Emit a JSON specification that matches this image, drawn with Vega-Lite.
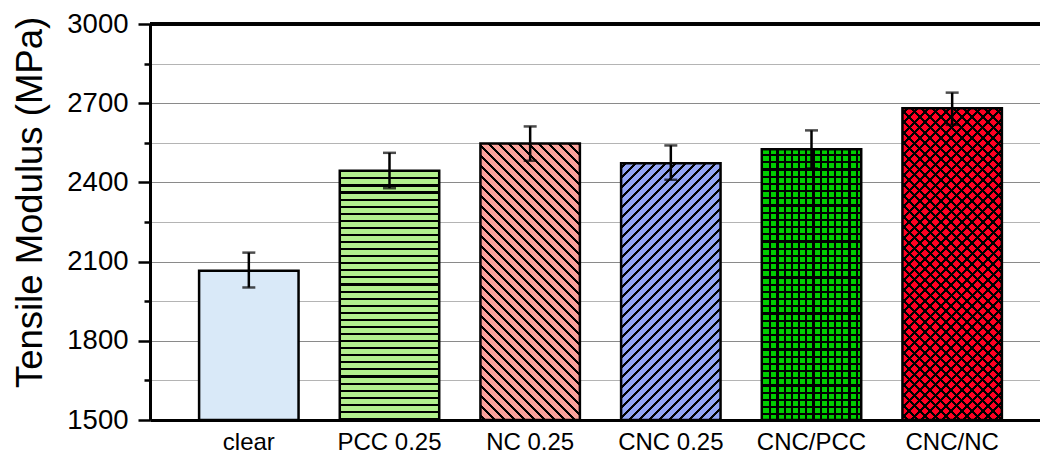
{
  "$schema": "https://vega.github.io/schema/vega-lite/v6.json",
  "width": 890,
  "height": 396,
  "autosize": {"type": "none"},
  "padding": {"left": 150, "top": 24, "right": 0, "bottom": 34},
  "config": {"view": {"stroke": null}, "font": "Liberation Sans"},
  "params": [{"name": "hatch", "value": [
    {"offset": 0.00875, "color": "transparent"}, {"offset": 0.00875, "color": "#000"}, {"offset": 0.01625, "color": "#000"}, {"offset": 0.01625, "color": "transparent"},
    {"offset": 0.03375, "color": "transparent"}, {"offset": 0.03375, "color": "#000"}, {"offset": 0.04125, "color": "#000"}, {"offset": 0.04125, "color": "transparent"},
    {"offset": 0.05875, "color": "transparent"}, {"offset": 0.05875, "color": "#000"}, {"offset": 0.06625, "color": "#000"}, {"offset": 0.06625, "color": "transparent"},
    {"offset": 0.08375, "color": "transparent"}, {"offset": 0.08375, "color": "#000"}, {"offset": 0.09125, "color": "#000"}, {"offset": 0.09125, "color": "transparent"},
    {"offset": 0.10875, "color": "transparent"}, {"offset": 0.10875, "color": "#000"}, {"offset": 0.11625, "color": "#000"}, {"offset": 0.11625, "color": "transparent"},
    {"offset": 0.13375, "color": "transparent"}, {"offset": 0.13375, "color": "#000"}, {"offset": 0.14125, "color": "#000"}, {"offset": 0.14125, "color": "transparent"},
    {"offset": 0.15875, "color": "transparent"}, {"offset": 0.15875, "color": "#000"}, {"offset": 0.16625, "color": "#000"}, {"offset": 0.16625, "color": "transparent"},
    {"offset": 0.18375, "color": "transparent"}, {"offset": 0.18375, "color": "#000"}, {"offset": 0.19125, "color": "#000"}, {"offset": 0.19125, "color": "transparent"},
    {"offset": 0.20875, "color": "transparent"}, {"offset": 0.20875, "color": "#000"}, {"offset": 0.21625, "color": "#000"}, {"offset": 0.21625, "color": "transparent"},
    {"offset": 0.23375, "color": "transparent"}, {"offset": 0.23375, "color": "#000"}, {"offset": 0.24125, "color": "#000"}, {"offset": 0.24125, "color": "transparent"},
    {"offset": 0.25875, "color": "transparent"}, {"offset": 0.25875, "color": "#000"}, {"offset": 0.26625, "color": "#000"}, {"offset": 0.26625, "color": "transparent"},
    {"offset": 0.28375, "color": "transparent"}, {"offset": 0.28375, "color": "#000"}, {"offset": 0.29125, "color": "#000"}, {"offset": 0.29125, "color": "transparent"},
    {"offset": 0.30875, "color": "transparent"}, {"offset": 0.30875, "color": "#000"}, {"offset": 0.31625, "color": "#000"}, {"offset": 0.31625, "color": "transparent"},
    {"offset": 0.33375, "color": "transparent"}, {"offset": 0.33375, "color": "#000"}, {"offset": 0.34125, "color": "#000"}, {"offset": 0.34125, "color": "transparent"},
    {"offset": 0.35875, "color": "transparent"}, {"offset": 0.35875, "color": "#000"}, {"offset": 0.36625, "color": "#000"}, {"offset": 0.36625, "color": "transparent"},
    {"offset": 0.38375, "color": "transparent"}, {"offset": 0.38375, "color": "#000"}, {"offset": 0.39125, "color": "#000"}, {"offset": 0.39125, "color": "transparent"},
    {"offset": 0.40875, "color": "transparent"}, {"offset": 0.40875, "color": "#000"}, {"offset": 0.41625, "color": "#000"}, {"offset": 0.41625, "color": "transparent"},
    {"offset": 0.43375, "color": "transparent"}, {"offset": 0.43375, "color": "#000"}, {"offset": 0.44125, "color": "#000"}, {"offset": 0.44125, "color": "transparent"},
    {"offset": 0.45875, "color": "transparent"}, {"offset": 0.45875, "color": "#000"}, {"offset": 0.46625, "color": "#000"}, {"offset": 0.46625, "color": "transparent"},
    {"offset": 0.48375, "color": "transparent"}, {"offset": 0.48375, "color": "#000"}, {"offset": 0.49125, "color": "#000"}, {"offset": 0.49125, "color": "transparent"},
    {"offset": 0.50875, "color": "transparent"}, {"offset": 0.50875, "color": "#000"}, {"offset": 0.51625, "color": "#000"}, {"offset": 0.51625, "color": "transparent"},
    {"offset": 0.53375, "color": "transparent"}, {"offset": 0.53375, "color": "#000"}, {"offset": 0.54125, "color": "#000"}, {"offset": 0.54125, "color": "transparent"},
    {"offset": 0.55875, "color": "transparent"}, {"offset": 0.55875, "color": "#000"}, {"offset": 0.56625, "color": "#000"}, {"offset": 0.56625, "color": "transparent"},
    {"offset": 0.58375, "color": "transparent"}, {"offset": 0.58375, "color": "#000"}, {"offset": 0.59125, "color": "#000"}, {"offset": 0.59125, "color": "transparent"},
    {"offset": 0.60875, "color": "transparent"}, {"offset": 0.60875, "color": "#000"}, {"offset": 0.61625, "color": "#000"}, {"offset": 0.61625, "color": "transparent"},
    {"offset": 0.63375, "color": "transparent"}, {"offset": 0.63375, "color": "#000"}, {"offset": 0.64125, "color": "#000"}, {"offset": 0.64125, "color": "transparent"},
    {"offset": 0.65875, "color": "transparent"}, {"offset": 0.65875, "color": "#000"}, {"offset": 0.66625, "color": "#000"}, {"offset": 0.66625, "color": "transparent"},
    {"offset": 0.68375, "color": "transparent"}, {"offset": 0.68375, "color": "#000"}, {"offset": 0.69125, "color": "#000"}, {"offset": 0.69125, "color": "transparent"},
    {"offset": 0.70875, "color": "transparent"}, {"offset": 0.70875, "color": "#000"}, {"offset": 0.71625, "color": "#000"}, {"offset": 0.71625, "color": "transparent"},
    {"offset": 0.73375, "color": "transparent"}, {"offset": 0.73375, "color": "#000"}, {"offset": 0.74125, "color": "#000"}, {"offset": 0.74125, "color": "transparent"},
    {"offset": 0.75875, "color": "transparent"}, {"offset": 0.75875, "color": "#000"}, {"offset": 0.76625, "color": "#000"}, {"offset": 0.76625, "color": "transparent"},
    {"offset": 0.78375, "color": "transparent"}, {"offset": 0.78375, "color": "#000"}, {"offset": 0.79125, "color": "#000"}, {"offset": 0.79125, "color": "transparent"},
    {"offset": 0.80875, "color": "transparent"}, {"offset": 0.80875, "color": "#000"}, {"offset": 0.81625, "color": "#000"}, {"offset": 0.81625, "color": "transparent"},
    {"offset": 0.83375, "color": "transparent"}, {"offset": 0.83375, "color": "#000"}, {"offset": 0.84125, "color": "#000"}, {"offset": 0.84125, "color": "transparent"},
    {"offset": 0.85875, "color": "transparent"}, {"offset": 0.85875, "color": "#000"}, {"offset": 0.86625, "color": "#000"}, {"offset": 0.86625, "color": "transparent"},
    {"offset": 0.88375, "color": "transparent"}, {"offset": 0.88375, "color": "#000"}, {"offset": 0.89125, "color": "#000"}, {"offset": 0.89125, "color": "transparent"},
    {"offset": 0.90875, "color": "transparent"}, {"offset": 0.90875, "color": "#000"}, {"offset": 0.91625, "color": "#000"}, {"offset": 0.91625, "color": "transparent"},
    {"offset": 0.93375, "color": "transparent"}, {"offset": 0.93375, "color": "#000"}, {"offset": 0.94125, "color": "#000"}, {"offset": 0.94125, "color": "transparent"},
    {"offset": 0.95875, "color": "transparent"}, {"offset": 0.95875, "color": "#000"}, {"offset": 0.96625, "color": "#000"}, {"offset": 0.96625, "color": "transparent"},
    {"offset": 0.98375, "color": "transparent"}, {"offset": 0.98375, "color": "#000"}, {"offset": 0.99125, "color": "#000"}, {"offset": 0.99125, "color": "transparent"}
  ]}],
  "data": {"values": [
    {"sample": "clear", "mean": 2065, "lo": 2002, "hi": 2134},
    {"sample": "PCC 0.25", "mean": 2444, "lo": 2378, "hi": 2512},
    {"sample": "NC 0.25", "mean": 2547, "lo": 2482, "hi": 2612},
    {"sample": "CNC 0.25", "mean": 2473, "lo": 2410, "hi": 2540},
    {"sample": "CNC/PCC", "mean": 2526, "lo": 2453, "hi": 2597},
    {"sample": "CNC/NC", "mean": 2681, "lo": 2618, "hi": 2740}
  ]},
  "resolve": {"axis": {"y": "independent"}},
  "layer": [
    {
      "mark": {"type": "bar", "stroke": "black", "strokeWidth": 2.5, "opacity": 1},
      "encoding": {
        "x": {"field": "sample", "type": "nominal", "title": null,
              "sort": ["clear", "PCC 0.25", "NC 0.25", "CNC 0.25", "CNC/PCC", "CNC/NC"],
              "scale": {"paddingInner": 0.293, "paddingOuter": 0.31, "align": 0.563},
              "axis": {"orient": "bottom", "ticks": false, "tickSize": 0, "labelAngle": 0, "labelFontSize": 24, "labelColor": "black", "labelPadding": 10, "domainColor": "black", "domainWidth": 3, "grid": false}},
        "y": {"field": "mean", "type": "quantitative", "title": "Tensile Modulus (MPa)",
              "scale": {"domain": [1500, 3000], "nice": false, "zero": false},
              "axis": {"orient": "left", "values": [1500, 1800, 2100, 2400, 2700, 3000],
                       "format": "d",
                       "grid": true, "gridColor": "#8a8a8a", "gridWidth": 1.2,
                       "tickSize": 12, "tickWidth": 2.5, "tickColor": "black",
                       "domainColor": "black", "domainWidth": 3,
                       "labelFontSize": 27.5, "labelColor": "black", "labelPadding": 10,
                       "titleFontSize": 36.5, "titleFontWeight": "normal", "titleColor": "black",
                       "titleX": -109, "titleY": 178, "titleAlign": "center", "titleBaseline": "alphabetic", "titleAngle": -90}},
        "y2": {"datum": 1500},
        "color": {"field": "sample", "type": "nominal", "legend": null,
                  "scale": {"domain": ["clear", "PCC 0.25", "NC 0.25", "CNC 0.25", "CNC/PCC", "CNC/NC"],
                            "range": ["#d9e9f8", "#b3ef8e", "#f9a19a", "#93a5f5", "#00cd00", "#ff0022"]}}
      }
    },
    {
      "transform": [{"filter": "datum.sample === 'PCC 0.25'"}],
      "mark": {"type": "bar", "strokeWidth": 0, "fill": {"expr": "{gradient: 'linear', x1: 0, y1: 0.0163, x2: 0, y2: 1.1519, stops: hatch}"}},
      "encoding": {
        "x": {"field": "sample", "type": "nominal", "title": null, "sort": ["clear", "PCC 0.25", "NC 0.25", "CNC 0.25", "CNC/PCC", "CNC/NC"]},
        "y": {"field": "mean", "type": "quantitative", "axis": null},
        "y2": {"datum": 1500}
      }
    },
    {
      "transform": [{"filter": "datum.sample === 'NC 0.25'"}],
      "mark": {"type": "bar", "strokeWidth": 0, "fill": {"expr": "{gradient: 'linear', x1: 0, y1: 1, x2: 0.461, y2: -0.2813, stops: hatch}"}},
      "encoding": {
        "x": {"field": "sample", "type": "nominal", "title": null, "sort": ["clear", "PCC 0.25", "NC 0.25", "CNC 0.25", "CNC/PCC", "CNC/NC"]},
        "y": {"field": "mean", "type": "quantitative", "axis": null},
        "y2": {"datum": 1500}
      }
    },
    {
      "transform": [{"filter": "datum.sample === 'CNC 0.25'"}],
      "mark": {"type": "bar", "strokeWidth": 0, "fill": {"expr": "{gradient: 'linear', x1: 0, y1: 0, x2: 0.5243, y2: 1.3542, stops: hatch}"}},
      "encoding": {
        "x": {"field": "sample", "type": "nominal", "title": null, "sort": ["clear", "PCC 0.25", "NC 0.25", "CNC 0.25", "CNC/PCC", "CNC/NC"]},
        "y": {"field": "mean", "type": "quantitative", "axis": null},
        "y2": {"datum": 1500}
      }
    },
    {
      "transform": [{"filter": "datum.sample === 'CNC/PCC'"}],
      "mark": {"type": "bar", "strokeWidth": 0, "fill": {"expr": "{gradient: 'linear', x1: 0, y1: 0.00886, x2: 0, y2: 1.0722, stops: hatch}"}},
      "encoding": {
        "x": {"field": "sample", "type": "nominal", "title": null, "sort": ["clear", "PCC 0.25", "NC 0.25", "CNC 0.25", "CNC/PCC", "CNC/NC"]},
        "y": {"field": "mean", "type": "quantitative", "axis": null},
        "y2": {"datum": 1500}
      }
    },
    {
      "transform": [{"filter": "datum.sample === 'CNC/PCC'"}],
      "mark": {"type": "bar", "strokeWidth": 0, "fill": {"expr": "{gradient: 'linear', x1: 0.0493, y1: 0, x2: 2.945, y2: 0, stops: hatch}"}},
      "encoding": {
        "x": {"field": "sample", "type": "nominal", "title": null, "sort": ["clear", "PCC 0.25", "NC 0.25", "CNC 0.25", "CNC/PCC", "CNC/NC"]},
        "y": {"field": "mean", "type": "quantitative", "axis": null},
        "y2": {"datum": 1500}
      }
    },
    {
      "transform": [{"filter": "datum.sample === 'CNC/NC'"}],
      "mark": {"type": "bar", "strokeWidth": 0, "fill": {"expr": "{gradient: 'linear', x1: 0, y1: 0, x2: 0.39, y2: 1.2227, stops: hatch}"}},
      "encoding": {
        "x": {"field": "sample", "type": "nominal", "title": null, "sort": ["clear", "PCC 0.25", "NC 0.25", "CNC 0.25", "CNC/PCC", "CNC/NC"]},
        "y": {"field": "mean", "type": "quantitative", "axis": null},
        "y2": {"datum": 1500}
      }
    },
    {
      "transform": [{"filter": "datum.sample === 'CNC/NC'"}],
      "mark": {"type": "bar", "strokeWidth": 0, "fill": {"expr": "{gradient: 'linear', x1: 0, y1: 1, x2: 0.39, y2: -0.2227, stops: hatch}"}},
      "encoding": {
        "x": {"field": "sample", "type": "nominal", "title": null, "sort": ["clear", "PCC 0.25", "NC 0.25", "CNC 0.25", "CNC/PCC", "CNC/NC"]},
        "y": {"field": "mean", "type": "quantitative", "axis": null},
        "y2": {"datum": 1500}
      }
    },
    {
      "mark": {"type": "rule", "color": "black", "strokeWidth": 2.5},
      "encoding": {
        "x": {"field": "sample", "type": "nominal", "title": null, "sort": ["clear", "PCC 0.25", "NC 0.25", "CNC 0.25", "CNC/PCC", "CNC/NC"]},
        "y": {"field": "lo", "type": "quantitative", "title": null,
              "axis": {"orient": "left", "values": [1650, 1950, 2250, 2550, 2850], "labels": false, "domain": false,
                       "grid": true, "gridColor": "#b4b4b4", "gridWidth": 1.2,
                       "tickSize": 6, "tickWidth": 2.5, "tickColor": "black", "title": null}},
        "y2": {"field": "hi"}
      }
    },
    {
      "mark": {"type": "tick", "color": "black", "thickness": 2.5, "size": 13},
      "encoding": {
        "x": {"field": "sample", "type": "nominal", "title": null, "sort": ["clear", "PCC 0.25", "NC 0.25", "CNC 0.25", "CNC/PCC", "CNC/NC"]},
        "y": {"field": "hi", "type": "quantitative", "axis": null}
      }
    },
    {
      "mark": {"type": "tick", "color": "black", "thickness": 2.5, "size": 13},
      "encoding": {
        "x": {"field": "sample", "type": "nominal", "title": null, "sort": ["clear", "PCC 0.25", "NC 0.25", "CNC 0.25", "CNC/PCC", "CNC/NC"]},
        "y": {"field": "lo", "type": "quantitative", "axis": null}
      }
    },
    {
      "mark": {"type": "rule", "color": "black", "strokeWidth": 3},
      "encoding": {"y": {"datum": 3000, "axis": null}}
    }
  ]
}
